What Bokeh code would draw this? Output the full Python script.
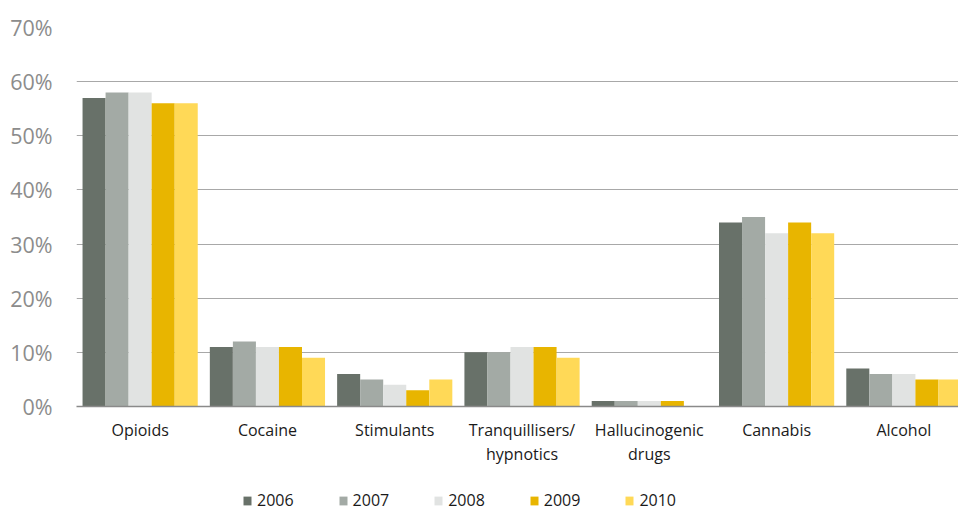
from bokeh.plotting import figure
from bokeh.layouts import column
from bokeh.models import Range1d, FixedTicker, Legend, LegendItem, PrintfTickFormatter
from bokeh.embed import file_html
from bokeh.resources import INLINE

categories = ["Opioids", "Cocaine", "Stimulants", "Tranquillisers/\nhypnotics",
              "Hallucinogenic\ndrugs", "Cannabis", "Alcohol"]
years = ["2006", "2007", "2008", "2009", "2010"]
v2006 = [57, 11, 6, 10, 1, 34, 7]
v2007 = [58, 12, 5, 10, 1, 35, 6]
v2008 = [58, 11, 4, 11, 1, 32, 6]
v2009 = [56, 11, 3, 11, 1, 34, 5]
v2010 = [56, 9, 5, 9, 0, 32, 5]
series = [v2006, v2007, v2008, v2009, v2010]
colors = ["#687169", "#A3AAA5", "#E1E3E2", "#E8B500", "#FFD957"]
yticks = [0, 10, 20, 30, 40, 50, 60, 70]

FONT = "Open Sans"

p = figure(width=958, height=476, output_backend="svg", toolbar_location=None,
           x_range=Range1d(-0.5, 6.429), y_range=Range1d(0, 70),
           min_border_left=76, min_border_right=0, min_border_top=27, min_border_bottom=70)
p.outline_line_color = None
p.background_fill_color = "white"
p.border_fill_color = "white"

bw = 0.181
for k, (vals, col) in enumerate(zip(series, colors)):
    off = (k - 2) * bw
    xs = [i + off for i in range(len(categories))]
    p.vbar(x=xs, top=vals, width=bw, color=col, line_color=None)

p.xgrid.grid_line_color = None
p.ygrid.ticker = FixedTicker(ticks=yticks)
p.ygrid.grid_line_color = "#a8a8a8"
p.ygrid.grid_line_width = 1.2

xa = p.xaxis[0]
xa.ticker = FixedTicker(ticks=list(range(len(categories))))
xa.major_label_overrides = {i: c for i, c in enumerate(categories)}
xa.major_tick_line_color = None
xa.minor_tick_line_color = None
xa.axis_line_color = "#8a8a8a"
xa.axis_line_width = 1.5
xa.major_label_text_font = FONT
xa.major_label_text_font_size = "16px"
xa.major_label_text_color = "#1a1a1a"
xa.major_label_standoff = 6
xa.major_label_text_line_height = 1.1

ya = p.yaxis[0]
ya.ticker = FixedTicker(ticks=yticks)
ya.formatter = PrintfTickFormatter(format="%d%%")
ya.axis_line_color = None
ya.major_tick_line_color = None
ya.minor_tick_line_color = None
ya.major_label_text_font = FONT
ya.major_label_text_font_size = "21.5px"
ya.major_label_text_color = "#8c8c8c"
ya.major_label_standoff = 18

# legend strip
lg = figure(width=958, height=35, output_backend="svg", toolbar_location=None,
            x_range=Range1d(0, 1), y_range=Range1d(0, 1),
            x_axis_location=None, y_axis_location=None,
            min_border_left=0, min_border_right=0, min_border_top=0, min_border_bottom=0)
lg.outline_line_color = None
lg.grid.visible = False
items = []
for col, yr in zip(colors, years):
    r = lg.vbar(x=[0], top=[0], bottom=[0], width=0, color=col, line_color=None)
    items.append(LegendItem(label=yr, renderers=[r]))
legend = Legend(items=items, orientation="horizontal", location=(166, 0),
                glyph_width=10, glyph_height=11, label_standoff=5, spacing=44,
                label_text_font=FONT, label_text_font_size="16px",
                label_text_color="#1a1a1a", border_line_color=None,
                background_fill_alpha=0, padding=0, margin=0)
lg.add_layout(legend, "center")

layout = column(p, lg, spacing=0)
open("out.html", "w").write(file_html(layout, INLINE))
